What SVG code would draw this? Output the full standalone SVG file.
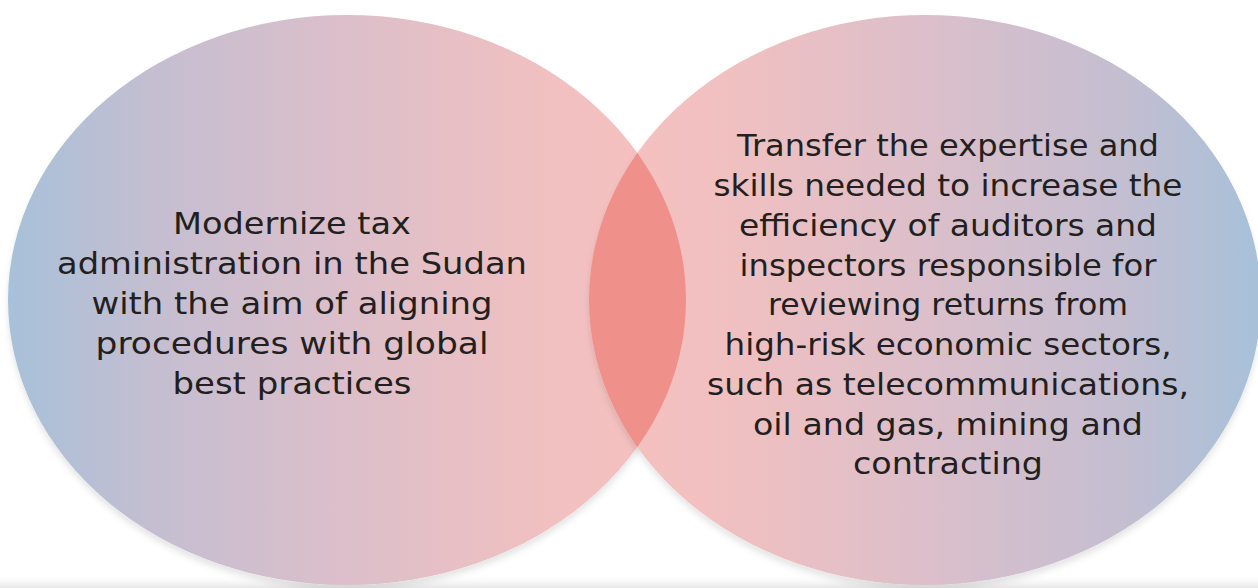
<svg xmlns="http://www.w3.org/2000/svg" width="1258" height="588" viewBox="0 0 1258 588">
  <style>
    .label { font-family: "DejaVu Sans", "Liberation Sans", sans-serif; font-size: 30px; fill: #231f20; text-anchor: middle; }
  </style>
  <defs>
    <linearGradient id="gradLeft" x1="0" y1="0" x2="1" y2="0">
      <stop offset="0" stop-color="#a6c1d9"/>
      <stop offset="0.2" stop-color="#c3bed1"/>
      <stop offset="0.5" stop-color="#dcbfca"/>
      <stop offset="0.8" stop-color="#f1c0c0"/>
      <stop offset="1" stop-color="#f5c1bf"/>
    </linearGradient>
    <linearGradient id="gradRight" x1="1" y1="0" x2="0" y2="0">
      <stop offset="0" stop-color="#a6c1d9"/>
      <stop offset="0.2" stop-color="#c3bed1"/>
      <stop offset="0.5" stop-color="#dcbfca"/>
      <stop offset="0.8" stop-color="#f1c0c0"/>
      <stop offset="1" stop-color="#f5c1bf"/>
    </linearGradient>
    <linearGradient id="floorShade" x1="0" y1="0" x2="0" y2="1">
      <stop offset="0" stop-color="#ffffff" stop-opacity="0"/>
      <stop offset="1" stop-color="#e6e6e6"/>
    </linearGradient>
    <filter id="softShadow" x="-5%" y="-5%" width="110%" height="115%">
      <feDropShadow dx="0" dy="5" stdDeviation="3" flood-color="#000000" flood-opacity="0.1"/>
    </filter>
    <clipPath id="clipLeft">
      <ellipse cx="347" cy="300" rx="339" ry="285"/>
    </clipPath>
  </defs>

  <rect x="0" y="0" width="1258" height="588" fill="#ffffff"/>
  <rect x="0" y="574" width="1258" height="14" fill="url(#floorShade)"/>

  <g id="circle-left" filter="url(#softShadow)">
    <ellipse cx="347" cy="300" rx="339" ry="285" fill="url(#gradLeft)"/>
  </g>
  <g id="circle-right" filter="url(#softShadow)">
    <ellipse cx="925" cy="300" rx="336" ry="285" fill="url(#gradRight)"/>
  </g>
  <g id="overlap">
    <ellipse cx="925" cy="300" rx="336" ry="285" fill="#f0908a" clip-path="url(#clipLeft)"/>
  </g>

  <g id="text-left" class="label">
    <text x="292" y="234" textLength="238" lengthAdjust="spacingAndGlyphs">Modernize tax</text>
    <text x="292" y="274" textLength="470" lengthAdjust="spacingAndGlyphs">administration in the Sudan</text>
    <text x="292" y="314" textLength="401" lengthAdjust="spacingAndGlyphs">with the aim of aligning</text>
    <text x="292" y="354" textLength="393" lengthAdjust="spacingAndGlyphs">procedures with global</text>
    <text x="292" y="394" textLength="239" lengthAdjust="spacingAndGlyphs">best practices</text>
  </g>

  <g id="text-right" class="label">
    <text x="948" y="156" textLength="422" lengthAdjust="spacingAndGlyphs">Transfer the expertise and</text>
    <text x="948" y="196" textLength="469" lengthAdjust="spacingAndGlyphs">skills needed to increase the</text>
    <text x="948" y="236" textLength="418" lengthAdjust="spacingAndGlyphs">efficiency of auditors and</text>
    <text x="948" y="276" textLength="417" lengthAdjust="spacingAndGlyphs">inspectors responsible for</text>
    <text x="948" y="315" textLength="360" lengthAdjust="spacingAndGlyphs">reviewing returns from</text>
    <text x="948" y="355" textLength="447" lengthAdjust="spacingAndGlyphs">high-risk economic sectors,</text>
    <text x="948" y="395" textLength="482" lengthAdjust="spacingAndGlyphs">such as telecommunications,</text>
    <text x="948" y="435" textLength="390" lengthAdjust="spacingAndGlyphs">oil and gas, mining and</text>
    <text x="948" y="474" textLength="190" lengthAdjust="spacingAndGlyphs">contracting</text>
  </g>
</svg>
